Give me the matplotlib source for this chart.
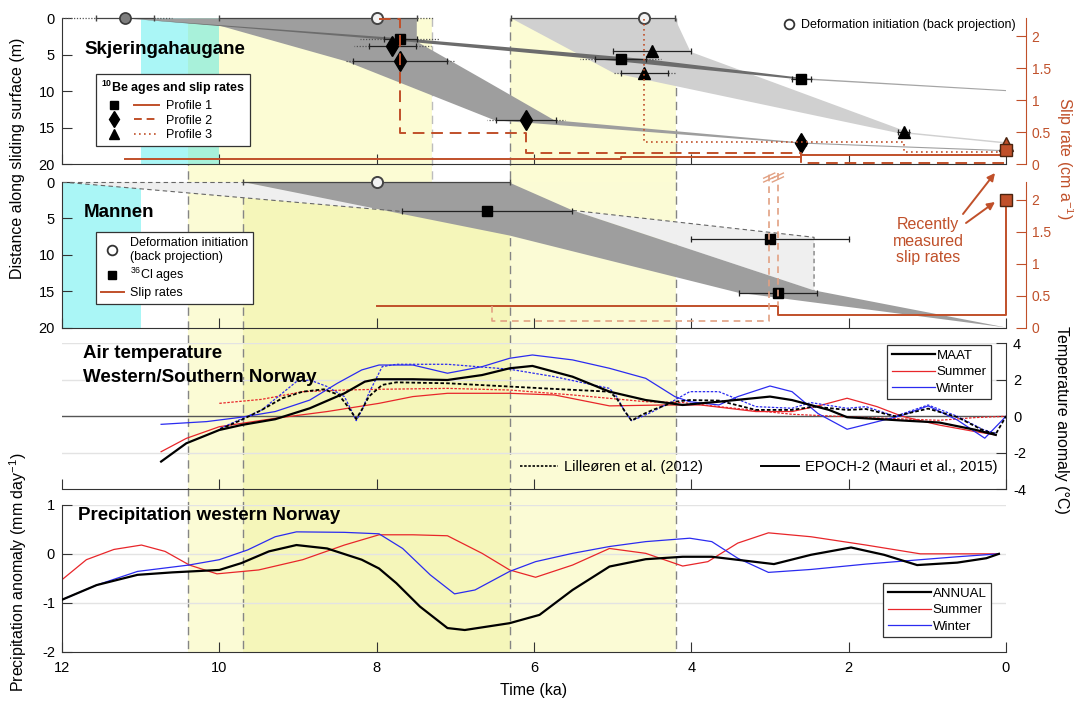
import matplotlib.pyplot as plt
from matplotlib.lines import Line2D
from matplotlib.patches import Polygon, Rectangle
from matplotlib.legend_handler import HandlerTuple
from matplotlib.transforms import blended_transform_factory

plt.rcParams['font.family'] = ['Liberation Sans', 'DejaVu Sans']
plt.rcParams['mathtext.fontset'] = 'custom'
plt.rcParams['mathtext.rm'] = 'Liberation Sans'
plt.rcParams['mathtext.it'] = 'Liberation Sans:italic'
plt.rcParams['mathtext.bf'] = 'Liberation Sans:bold'
plt.rcParams['axes.unicode_minus'] = False

# ---------------------------------------------------------------- data ----
xticks = [12, 10, 8, 6, 4, 2, 0]

# Skjeringahaugane, 10Be exposure ages (ka) vs distance along sliding surface (m)
p1_age = [7.70, 4.90, 2.60]
p1_dist = [2.9, 5.6, 8.3]
p1_err_in = [0.21, 0.32, 0.12]
p1_err_ext = [0.51, 0.51, 0.16]
p2_age = [7.80, 7.70, 6.10, 2.60]
p2_dist = [3.8, 5.9, 14.0, 17.1]
p2_err_in = [0.30, 0.60, 0.38, 0.06]
p2_err_ext = [0.49, 0.70, 0.50, 0.08]
p3_age = [4.50, 4.60, 1.30]
p3_dist = [4.5, 7.5, 15.6]
p3_err_in = [0.50, 0.30, 0.07]
p3_err_ext = [0.50, 0.40, 0.09]

# back-projected deformation initiation (ka) with inner / outer bounds
sk_init_age = [11.2, 8.0, 4.6]
sk_init_old_in = [11.57, 10.0, 6.29]
sk_init_young_in = [10.83, 7.49, 4.21]
sk_init_old_ext = [12.0, 10.0, 6.29]
sk_init_young_ext = [10.6, 7.29, 4.21]

# uncertainty envelopes (age ka, distance m)
env2_age = [11.2, 7.49, 7.49, 6.66, 5.74, 6.50, 8.39, 10.0]
env2_dist = [0.0, 0.0, 3.2, 8.3, 14.0, 14.0, 5.9, 1.0]
env2_tail_age = [6.50, 5.74, 2.60, 0.0, 0.0, 2.60]
env2_tail_dist = [14.0, 14.0, 17.05, 18.1, 18.25, 17.2]
env1_age = [11.2, 7.49, 4.58, 2.50, 2.70, 5.22, 7.91]
env1_dist = [0.0, 2.9, 5.6, 8.3, 8.3, 5.6, 2.9]
env1_tail_age = [2.6, 0.0, 0.0, 2.6]
env1_tail_dist = [8.2, 9.85, 10.0, 8.4]
env3_age = [6.29, 4.21, 4.01, 1.25, 1.35, 4.99]
env3_dist = [0.0, 0.0, 4.6, 15.6, 15.8, 7.5]
env3_tail_age = [1.3, 0.0, 0.0, 1.3]
env3_tail_dist = [15.6, 17.0, 17.2, 15.8]

# slip rates (cm/a), step edges in ka
slip1_edges = [11.2, 4.9, 2.6, 0.0]
slip1_vals = [0.08, 0.11, 0.14]
slip2_edges = [7.97, 7.7, 6.1, 2.6, 0.0]
slip2_vals = [2.27, 0.48, 0.175, 0.01]
slip3_edges = [4.6, 4.6, 1.3, 0.0]
slip3_vals = [2.27, 0.35, 0.19]
sk_recent_tri = 0.32
sk_recent_sq = 0.22

# Mannen, 36Cl ages
cl_age = [6.60, 3.00, 2.90]
cl_dist = [4.05, 7.8, 15.2]
cl_err = [1.08, 1.00, 0.50]
mn_init_age = [8.0]
mn_init_err = [1.7]
mn_fan_age = [12.0, 9.7, 7.68]
mn_fan_dist = [0.0, 0.0, 4.05]
mn_env_age = [9.7, 6.33, 5.51, 2.44, 0.0, 3.41, 6.31]
mn_env_dist = [0.0, 0.0, 3.9, 14.9, 20.0, 15.2, 7.36]
mn_box_age = [5.51, 2.44, 2.44]
mn_box_dist = [3.9, 7.6, 14.9]
mn_slip_edges = [8.0, 2.9, 0.0]
mn_slip_vals = [0.33, 0.19]
mn_recent = 2.0
mn_slip_alt_age = [6.53, 6.53, 3.01, 3.01]
mn_slip_alt_val = [0.33, 0.10, 0.10, 2.42]
mn_slip_alt2_age = [2.9, 2.9]
mn_slip_alt2_val = [2.42, 0.33]

# air temperature anomalies (deg C)
maat_ep_age = [10.74, 10.42, 10.0, 9.71, 9.29, 8.85, 8.41, 8.15, 8.0, 7.54, 7.10, 6.66, 6.31,
               6.02, 5.51, 5.04, 4.58, 4.11, 3.65, 3.0, 2.72, 2.25, 2.02, 1.32, 0.85, 0.39, 0.13]
maat_ep_t = [-2.48, -1.48, -0.75, -0.47, -0.16, 0.44, 1.26, 1.90, 2.03, 2.03, 1.99, 2.26, 2.63,
             2.76, 2.17, 1.35, 0.89, 0.62, 0.80, 1.08, 0.89, 0.35, -0.05, -0.23, -0.34, -0.74, -1.02]
maat_li_age = [9.99, 9.72, 9.46, 9.2, 8.94, 8.67, 8.48, 8.36, 8.26, 8.17, 8.1, 7.93, 7.75, 7.10,
               6.31, 5.74, 5.04, 4.95, 4.85, 4.76, 4.62, 4.49, 4.21, 4.02, 3.65, 3.18, 2.72, 2.44,
               2.02, 1.78, 1.41, 0.99, 0.62, 0.29, 0.13, 0.0]
maat_li_t = [-0.71, -0.2, 0.35, 0.99, 1.35, 1.48, 1.17, 0.5, -0.15, 0.5, 1.08, 1.72, 1.86, 1.81,
             1.63, 1.5, 1.35, 0.99, 0.3, -0.24, 0.1, 0.35, 0.80, 0.89, 0.86, 0.35, 0.35, 0.53,
             0.35, 0.40, 0.0, 0.42, -0.04, -0.77, -0.97, 0.0]
win_ep_age = [10.74, 10.16, 9.72, 9.29, 8.85, 8.5, 8.19, 7.97, 7.54, 7.10, 6.66, 6.31, 6.02, 5.51,
              5.04, 4.58, 4.21, 4.02, 3.65, 3.41, 3.0, 2.72, 2.39, 2.02, 1.55, 1.32, 0.99, 0.62,
              0.27, 0.0]
win_ep_t = [-0.44, -0.29, -0.05, 0.26, 0.89, 1.81, 2.54, 2.81, 2.81, 2.36, 2.72, 3.18, 3.36, 3.09,
            2.63, 2.08, 1.08, 0.80, 0.62, 1.08, 1.66, 1.35, 0.15, -0.71, -0.2, 0.05, 0.57, -0.2,
            -1.2, 0.0]
win_li_age = [9.99, 9.46, 9.02, 8.85, 8.63, 8.41, 8.33, 8.26, 8.18, 8.1, 7.93, 7.75, 7.10, 6.31,
              5.74, 5.04, 4.95, 4.85, 4.76, 4.62, 4.49, 4.21, 4.02, 3.65, 3.18, 2.72, 2.48, 2.02,
              1.78, 1.41, 0.99, 0.62, 0.29, 0.13]
win_li_t = [-0.66, 0.35, 1.9, 1.99, 1.63, 1.08, 0.4, -0.24, 0.4, 1.26, 2.72, 2.85, 2.85, 2.58,
            2.17, 1.53, 1.08, 0.3, -0.24, 0.0, 0.26, 0.89, 1.35, 1.35, 0.53, 0.44, 0.75, 0.44,
            0.53, 0.0, 0.62, 0.0, -0.73, -0.93]
sum_ep_age = [10.74, 10.42, 10.0, 9.29, 8.63, 7.97, 7.54, 7.10, 6.31, 5.74, 5.04, 4.35, 3.88,
              3.18, 2.72, 2.34, 2.02, 1.64, 1.32, 0.85, 0.39, 0.13]
sum_ep_t = [-1.94, -1.21, -0.57, -0.11, 0.26, 0.71, 1.08, 1.26, 1.26, 1.17, 0.57, 0.62, 0.62,
            0.26, 0.26, 0.62, 0.99, 0.53, 0.0, -0.48, -0.84, -1.02]
sum_li_age = [10.0, 9.46, 8.94, 8.41, 7.97, 7.10, 6.31, 5.51, 4.58, 4.11, 3.65, 2.72, 1.78, 0.85,
              0.39, 0.0]
sum_li_t = [0.71, 0.93, 1.35, 1.44, 1.48, 1.53, 1.44, 1.17, 0.8, 0.75, 0.53, 0.11, -0.07, -0.22,
            -0.07, 0.0]

# precipitation anomalies (mm/day)
ann_age = [12.0, 11.56, 11.04, 10.6, 10.0, 9.72, 9.37, 9.02, 8.63, 8.19, 7.97, 7.75, 7.45, 7.10,
           6.88, 6.31, 5.93, 5.51, 5.04, 4.58, 4.11, 3.74, 2.95, 2.48, 1.97, 1.55, 1.13, 0.62,
           0.25, 0.09]
ann_p = [-0.94, -0.64, -0.43, -0.38, -0.33, -0.19, 0.05, 0.18, 0.11, -0.12, -0.3, -0.6, -1.08,
         -1.52, -1.56, -1.42, -1.25, -0.74, -0.26, -0.11, -0.06, -0.06, -0.21, -0.02, 0.13,
         -0.02, -0.23, -0.18, -0.09, 0.0]
psum_age = [12.0, 11.69, 11.34, 10.99, 10.69, 10.38, 10.03, 9.5, 8.94, 8.41, 7.97, 7.54, 7.10,
            6.66, 6.31, 5.98, 5.51, 5.04, 4.58, 4.11, 3.79, 3.41, 3.02, 2.48, 1.78, 1.09, 0.62, 0.09]
psum_p = [-0.53, -0.12, 0.09, 0.18, 0.05, -0.23, -0.41, -0.33, -0.12, 0.18, 0.39, 0.39, 0.37,
          0.01, -0.33, -0.48, -0.23, 0.11, 0.01, -0.25, -0.16, 0.22, 0.43, 0.35, 0.18, 0.0, 0.0, 0.0]
pwin_age = [12.0, 11.56, 11.04, 10.39, 10.0, 9.64, 9.29, 9.02, 8.41, 7.97, 7.67, 7.32, 7.01, 6.75,
            6.31, 5.98, 5.51, 5.04, 4.58, 4.02, 3.74, 3.41, 3.02, 2.48, 1.78, 1.09, 0.62, 0.09]
pwin_p = [-0.94, -0.64, -0.36, -0.23, -0.12, 0.08, 0.35, 0.45, 0.44, 0.41, 0.11, -0.43, -0.82,
          -0.74, -0.36, -0.16, 0.01, 0.15, 0.25, 0.32, 0.25, -0.09, -0.38, -0.32, -0.21, -0.12,
          -0.06, 0.0]

# climate periods (ka)
sk_cyan = (11.0, 10.4)
sk_cyan_mix = (10.4, 10.0)
sk_yellow = [(10.4, 7.3), (6.3, 4.2)]
sk_dashes = [10.4, 7.3, 6.3, 4.2]
mn_cyan = (12.0, 11.0)
hol_light = (10.4, 4.2)
hol_warm = (9.7, 6.3)
hol_dashes = [10.4, 9.7, 6.3, 4.2]

# -------------------------------------------------------------- styles ----
W, H = 1074, 701
L, R = 62, 1006
AXC = '#333333'
ORANGE = '#c0502a'
ORANGE_LT = '#e2a183'
RED = '#e8262a'
BLUE = '#2b2bf0'
CYAN = '#aaf6f6'
CYAN_MIX = '#a8f1da'
YEL_LT = '#fbfbd5'
YEL_SK = '#fcfcd4'
YEL_WARM = '#f5f6ba'
G_DARK = '#9e9e9e'
G_DARKER = '#6c6c6c'
G_LIGHT = '#d0d0d0'
G_PALE = '#efefef'


def fx(px):
    return px / W


def fy(py):
    return 1 - py / H


fig = plt.figure(figsize=(W / 100, H / 100), dpi=100)


def add_panel(top, bottom):
    ax = fig.add_axes([fx(L), fy(bottom), fx(R) - fx(L), (bottom - top) / H])
    ax.set_facecolor('none')
    ax.set_xlim(12, 0)
    for s in ('top', 'right', 'left'):
        ax.spines[s].set_visible(False)
    for s in ax.spines.values():
        s.set_color(AXC)
    ax.set_xticks(xticks)
    ax.tick_params(axis='x', direction='in', length=7, color=AXC, labelbottom=False)
    ax.tick_params(axis='y', direction='in', length=7, color=AXC, labelsize=10.5, pad=5)
    return ax


ax1 = add_panel(18.3, 164)
ax2 = add_panel(182, 327.5)
ax3 = add_panel(343.3, 489.3)
ax4 = add_panel(505, 651.5)

# background periods, drawn behind all panels
trans = blended_transform_factory(ax4.transData, fig.transFigure)


def band(x0, x1, top, bottom, color):
    fig.add_artist(Rectangle((x1, fy(bottom)), x0 - x1, fy(top) - fy(bottom), transform=trans,
                             facecolor=color, edgecolor='none', zorder=-3))


def vdash(x, top, bottom, color='#858585'):
    fig.add_artist(Line2D([x, x], [fy(top), fy(bottom)], transform=trans, color=color,
                          lw=1.0, ls=(0, (6, 4)), zorder=-2))


for a, b in sk_yellow:
    band(a, b, 18.3, 182, YEL_SK)
for x in sk_dashes:
    vdash(x, 18.3, 182, '#858585' if x != 7.3 else '#bdbdbd')
band(hol_light[0], hol_light[1], 182, 651.5, YEL_LT)
band(hol_warm[0], hol_warm[1], 182, 651.5, YEL_WARM)
for x in hol_dashes:
    vdash(x, 182, 651.5)
ax1.axvspan(*sk_cyan, color=CYAN, lw=0, zorder=0)
ax1.axvspan(*sk_cyan_mix, color=CYAN_MIX, lw=0, zorder=0)
ax2.axvspan(*mn_cyan, color=CYAN, lw=0, zorder=0)


def age_bars(ax, age, dist, e_in, e_out):
    for a, d, ei, eo in zip(age, dist, e_in, e_out):
        if eo > ei:
            for sgn in (1, -1):
                ax.plot([a + sgn * ei, a + sgn * eo], [d, d], color='#555555', lw=0.9,
                        ls=(0, (1, 1.3)), zorder=3)
        ax.plot([a + ei, a - ei], [d, d], color='#222222', lw=0.9, marker='|', ms=4,
                mew=0.9, zorder=3)


def steps(edges, vals):
    xs, ys = [], []
    for i, v in enumerate(vals):
        xs += [edges[i], edges[i + 1]]
        ys += [v, v]
    return xs, ys


def slip_axis(ax):
    axs = ax.twinx()
    axs.set_xlim(12, 0)
    for s in ('top', 'left', 'bottom'):
        axs.spines[s].set_visible(False)
    axs.spines['right'].set_position(('outward', 14.4))
    axs.spines['right'].set_color(ORANGE)
    axs.set_ylim(0, 2.28)
    axs.set_yticks([0, 0.5, 1, 1.5, 2])
    axs.set_yticklabels(['0', '0.5', '1', '1.5', '2'])
    axs.tick_params(axis='y', direction='in', length=7, colors=ORANGE, labelsize=10, pad=4)
    return axs


def box_legend(ax, handles, labels, anchor, loc, **kw):
    leg = ax.legend(handles, labels, loc=loc, bbox_to_anchor=(fx(anchor[0]), fy(anchor[1])),
                    bbox_transform=fig.transFigure, borderaxespad=0, fancybox=False,
                    edgecolor=AXC, framealpha=1, **kw)
    leg.get_frame().set_linewidth(0.9)
    return leg


# ------------------------------------------------- Skjeringahaugane ----
ax1.set_ylim(20, 0)
ax1.set_yticks([0, 5, 10, 15, 20])
ax1.spines['left'].set_visible(True)

for ages, dists, col in [(env3_age, env3_dist, G_LIGHT), (env3_tail_age, env3_tail_dist, G_LIGHT),
                         (env2_age, env2_dist, G_DARK), (env2_tail_age, env2_tail_dist, G_DARK),
                         (env1_tail_age, env1_tail_dist, '#a5a5a5'),
                         (env1_age, env1_dist, G_DARKER)]:
    ax1.add_patch(Polygon(list(zip(ages, dists)), closed=True, facecolor=col, edgecolor='none',
                          zorder=1))

for a, oi, yi, oe, ye in zip(sk_init_age, sk_init_old_in, sk_init_young_in,
                             sk_init_old_ext, sk_init_young_ext):
    ax1.plot([oi, yi], [0, 0], color='#444444', lw=0.9, marker='|', ms=4, clip_on=False, zorder=3)
    if oe > oi:
        ax1.plot([oe, oi], [0, 0], color='#555555', lw=0.9, ls=(0, (1, 1.3)), clip_on=False, zorder=3)
    if ye < yi:
        ax1.plot([yi, ye], [0, 0], color='#555555', lw=0.9, ls=(0, (1, 1.3)), clip_on=False, zorder=3)

age_bars(ax1, p1_age, p1_dist, p1_err_in, p1_err_ext)
age_bars(ax1, p2_age, p2_dist, p2_err_in, p2_err_ext)
age_bars(ax1, p3_age, p3_dist, p3_err_in, p3_err_ext)
ax1.plot(p1_age, p1_dist, 's', color='k', ms=7, zorder=5)
ax1.plot(p2_age, p2_dist, 'd', color='k', ms=10.5, zorder=5)
ax1.plot(p3_age, p3_dist, '^', color='k', ms=8.5, zorder=5)
ax1.plot(sk_init_age[:1], [0], 'o', mfc='#7d7d7d', mec='#3a3a3a', ms=8, mew=1.2, clip_on=False, zorder=6)
ax1.plot(sk_init_age[1:], [0, 0], 'o', mfc='#f2f2f2', mec='#444444', ms=8, mew=1.4, clip_on=False, zorder=6)

ax1s = slip_axis(ax1)
ax1s.plot(*steps(slip1_edges, slip1_vals), color=ORANGE, lw=1.4, zorder=4)
ax1s.plot(*steps(slip2_edges, slip2_vals), color=ORANGE, lw=1.4, ls=(0, (6, 3.5)), zorder=4)
ax1s.plot(*steps(slip3_edges, slip3_vals), color=ORANGE, lw=1.2, ls=(0, (1, 2)), zorder=4)
ax1s.plot([0], [sk_recent_tri], '^', mfc=ORANGE, mec='#4a2410', ms=10, clip_on=False, zorder=6)
ax1s.plot([0], [sk_recent_sq], 's', mfc=ORANGE, mec='#4a2410', ms=8.5, clip_on=False, zorder=7)

leg1 = box_legend(
    ax1s,
    [(Line2D([], [], marker='s', ls='none', color='k', ms=6), Line2D([], [], color=ORANGE, lw=1.4)),
     (Line2D([], [], marker='d', ls='none', color='k', ms=8.5), Line2D([], [], color=ORANGE, lw=1.4, ls=(0, (4, 2.5)))),
     (Line2D([], [], marker='^', ls='none', color='k', ms=7), Line2D([], [], color=ORANGE, lw=1.2, ls=(0, (1, 2))))],
    ['Profile 1', 'Profile 2', 'Profile 3'], (96, 74), 'upper left',
    handler_map={tuple: HandlerTuple(ndivide=None, pad=0.6)},
    title=r'$^{\mathbf{10}}$Be ages and slip rates', alignment='left',
    title_fontproperties={'weight': 'bold', 'size': 9},
    fontsize=9, handlelength=4.6, borderpad=0.4, labelspacing=0.22, handletextpad=0.6)
leg1.set_zorder(10)
ax1s.add_artist(leg1)
ax1s.legend([Line2D([], [], marker='o', ls='none', mfc='white', mec='#333333', ms=7, mew=1.3)],
            ['Deformation initiation (back projection)'], loc='upper right',
            bbox_to_anchor=(fx(1021), fy(14)), bbox_transform=fig.transFigure, borderaxespad=0,
            frameon=False, fontsize=9, handlelength=1.0, handletextpad=0.5)

fig.text(fx(84), fy(49), 'Skjeringahaugane', fontsize=13.5, fontweight='bold', va='center')

# ------------------------------------------------------------ Mannen ----
ax2.set_ylim(20, 0)
ax2.set_yticks([0, 5, 10, 15, 20])
ax2.spines['left'].set_visible(True)

ax2.add_patch(Polygon(list(zip(mn_fan_age, mn_fan_dist)), closed=True, facecolor=G_PALE,
                      edgecolor='none', zorder=1))
ax2.plot([mn_fan_age[0], mn_fan_age[1]], [mn_fan_dist[0], mn_fan_dist[1]], color='#666666',
         lw=0.8, ls=(0, (4, 3)), clip_on=False, zorder=2)
ax2.plot([mn_fan_age[0], mn_fan_age[2]], [mn_fan_dist[0], mn_fan_dist[2]], color='#666666',
         lw=0.8, ls=(0, (4, 3)), zorder=2)
ax2.add_patch(Polygon(list(zip(mn_box_age, mn_box_dist)), closed=True, facecolor=G_PALE,
                      edgecolor='none', zorder=1))
ax2.plot(mn_box_age, mn_box_dist, color='#666666', lw=0.8, ls=(0, (4, 3)), zorder=2)
ax2.add_patch(Polygon(list(zip(mn_env_age, mn_env_dist)), closed=True, facecolor=G_DARK,
                      edgecolor='none', zorder=1.5))

for a, e in zip(mn_init_age, mn_init_err):
    ax2.plot([a + e, a - e], [0, 0], color='#444444', lw=0.9, marker='|', ms=4, clip_on=False, zorder=3)
age_bars(ax2, cl_age, cl_dist, cl_err, cl_err)
ax2.plot(cl_age, cl_dist, 's', color='k', ms=7, zorder=5)
ax2.plot(mn_init_age, [0], 'o', mfc='#f2f2f2', mec='#444444', ms=8, mew=1.4, clip_on=False, zorder=6)

ax2s = slip_axis(ax2)
sx, sy = steps(mn_slip_edges, mn_slip_vals)
ax2s.plot(sx + [0.0], sy + [mn_recent], color=ORANGE, lw=1.4, clip_on=False, zorder=4)
ax2s.plot(mn_slip_alt_age, mn_slip_alt_val, color=ORANGE_LT, lw=1.2, ls=(0, (4, 3)), clip_on=False, zorder=4)
ax2s.plot(mn_slip_alt2_age, mn_slip_alt2_val, color=ORANGE_LT, lw=1.2, ls=(0, (4, 3)), clip_on=False, zorder=4)
for x0 in (mn_slip_alt_age[-1], mn_slip_alt2_age[0]):
    for dy in (0.0, 0.06):
        ax2s.plot([x0 + 0.07, x0 - 0.07], [2.28 + dy, 2.36 + dy], color=ORANGE_LT, lw=1.0, clip_on=False)
ax2s.plot([0], [mn_recent], 's', mfc=ORANGE, mec='#4a2410', ms=9, clip_on=False, zorder=6)

box_legend(ax2s,
           [Line2D([], [], marker='o', ls='none', mfc='white', mec='#333333', ms=7, mew=1.3),
            Line2D([], [], marker='s', ls='none', color='k', ms=6),
            Line2D([], [], color=ORANGE, lw=1.4)],
           ['Deformation initiation\n(back projection)', r'$^{36}$Cl ages', 'Slip rates'],
           (96, 232), 'upper left', fontsize=9, handlelength=1.8, borderpad=0.4,
           labelspacing=0.25, handletextpad=0.5)

fig.text(fx(84), fy(212), 'Mannen', fontsize=13.5, fontweight='bold', va='center')
fig.text(fx(928), fy(241), 'Recently\nmeasured\nslip rates', color=ORANGE, fontsize=11.5,
         ha='center', va='center', linespacing=1.12)
for tail, tip in [((963, 214), (995, 173)), ((966, 223), (995, 202))]:
    ax2s.annotate('', xy=(fx(tip[0]), fy(tip[1])), xytext=(fx(tail[0]), fy(tail[1])),
                  xycoords='figure fraction', textcoords='figure fraction', annotation_clip=False,
                  arrowprops=dict(arrowstyle='-|>', color=ORANGE, lw=1.4, mutation_scale=11,
                                  shrinkA=0, shrinkB=0))

# ------------------------------------------------------ air temperature ----
ax3.set_ylim(-4, 4)
ax3.spines['right'].set_visible(True)
ax3.yaxis.tick_right()
ax3.set_yticks([-4, -2, 0, 2, 4])
ax3.tick_params(axis='y', direction='in', length=7, pad=5)
for g in (4, 2, -2):
    ax3.axhline(g, color='#e3e3e3', lw=1, zorder=0.5)
ax3.axhline(0, color='#555555', lw=1, zorder=0.6)

ax3.plot(sum_li_age, sum_li_t, color=RED, lw=0.9, ls=(0, (2, 1.2)), zorder=2)
ax3.plot(sum_ep_age, sum_ep_t, color=RED, lw=0.9, zorder=2)
ax3.plot(win_li_age, win_li_t, color=BLUE, lw=0.9, ls=(0, (2, 1.2)), zorder=2)
ax3.plot(win_ep_age, win_ep_t, color=BLUE, lw=0.9, zorder=2)
ax3.plot(maat_li_age, maat_li_t, color='k', lw=1.3, ls=(0, (2, 1.2)), zorder=3)
ax3.plot(maat_ep_age, maat_ep_t, color='k', lw=1.6, zorder=3)

leg3 = box_legend(ax3, [Line2D([], [], color='k', lw=1.6), Line2D([], [], color=RED, lw=0.9),
                        Line2D([], [], color=BLUE, lw=0.9)], ['MAAT', 'Summer', 'Winter'],
                  (991, 345), 'upper right', fontsize=9.5, handlelength=3.3,
                  handletextpad=0.1, labelspacing=0.32, borderpad=0.35)
ax3.add_artist(leg3)
ax3.legend([Line2D([], [], color='k', lw=1.2, ls=(0, (1.5, 1))), Line2D([], [], color='k', lw=1.4)],
           ['Lilleøren et al. (2012)', 'EPOCH-2 (Mauri et al., 2015)'], ncol=2,
           loc='center right', bbox_to_anchor=(fx(1003), fy(467)), bbox_transform=fig.transFigure,
           borderaxespad=0, frameon=False, fontsize=10.5, handlelength=2.6, handletextpad=0.4,
           columnspacing=4.0)

fig.text(fx(83), fy(353), 'Air temperature', fontsize=13.5, fontweight='bold', va='center')
fig.text(fx(83), fy(377), 'Western/Southern Norway', fontsize=13.5, fontweight='bold', va='center')

# -------------------------------------------------------- precipitation ----
ax4.set_ylim(-2, 1)
ax4.spines['left'].set_visible(True)
ax4.set_yticks([-2, -1, 0, 1])
for g in (1, 0, -1):
    ax4.axhline(g, color='#e3e3e3', lw=1, zorder=0.5)
ax4.tick_params(axis='x', labelbottom=True, labelsize=10.5, pad=7)
ax4.set_xticklabels([str(t) for t in xticks])

ax4.plot(psum_age, psum_p, color=RED, lw=0.9, zorder=2)
ax4.plot(pwin_age, pwin_p, color=BLUE, lw=0.9, zorder=2)
ax4.plot(ann_age, ann_p, color='k', lw=1.6, zorder=3)

box_legend(ax4, [Line2D([], [], color='k', lw=1.6), Line2D([], [], color=RED, lw=0.9),
                 Line2D([], [], color=BLUE, lw=0.9)], ['ANNUAL', 'Summer', 'Winter'],
           (991, 583), 'upper right', fontsize=9.5, handlelength=3.3,
           handletextpad=0.1, labelspacing=0.32, borderpad=0.35)

fig.text(fx(78), fy(516), 'Precipitation western Norway', fontsize=13.5, fontweight='bold', va='center')

# ---------------------------------------------------------- axis labels ----
fig.text(fx(18), fy(158), 'Distance along sliding surface (m)', rotation=90, fontsize=11.5,
         ha='center', va='center')
fig.text(fx(18), fy(572), r'Precipitation anomaly (mm day$^{-1}$)', rotation=90, fontsize=11.5,
         ha='center', va='center')
fig.text(fx(1065), fy(158), r'Slip rate (cm a$^{-1}$)', rotation=-90, fontsize=11.5,
         color=ORANGE, ha='center', va='center')
fig.text(fx(1062), fy(420), 'Temperature anomaly (°C)', rotation=-90, fontsize=11.5,
         ha='center', va='center')
fig.text(fx(534), fy(690), 'Time (ka)', fontsize=11.5, ha='center', va='center')

fig.savefig('out.png', dpi=100)
